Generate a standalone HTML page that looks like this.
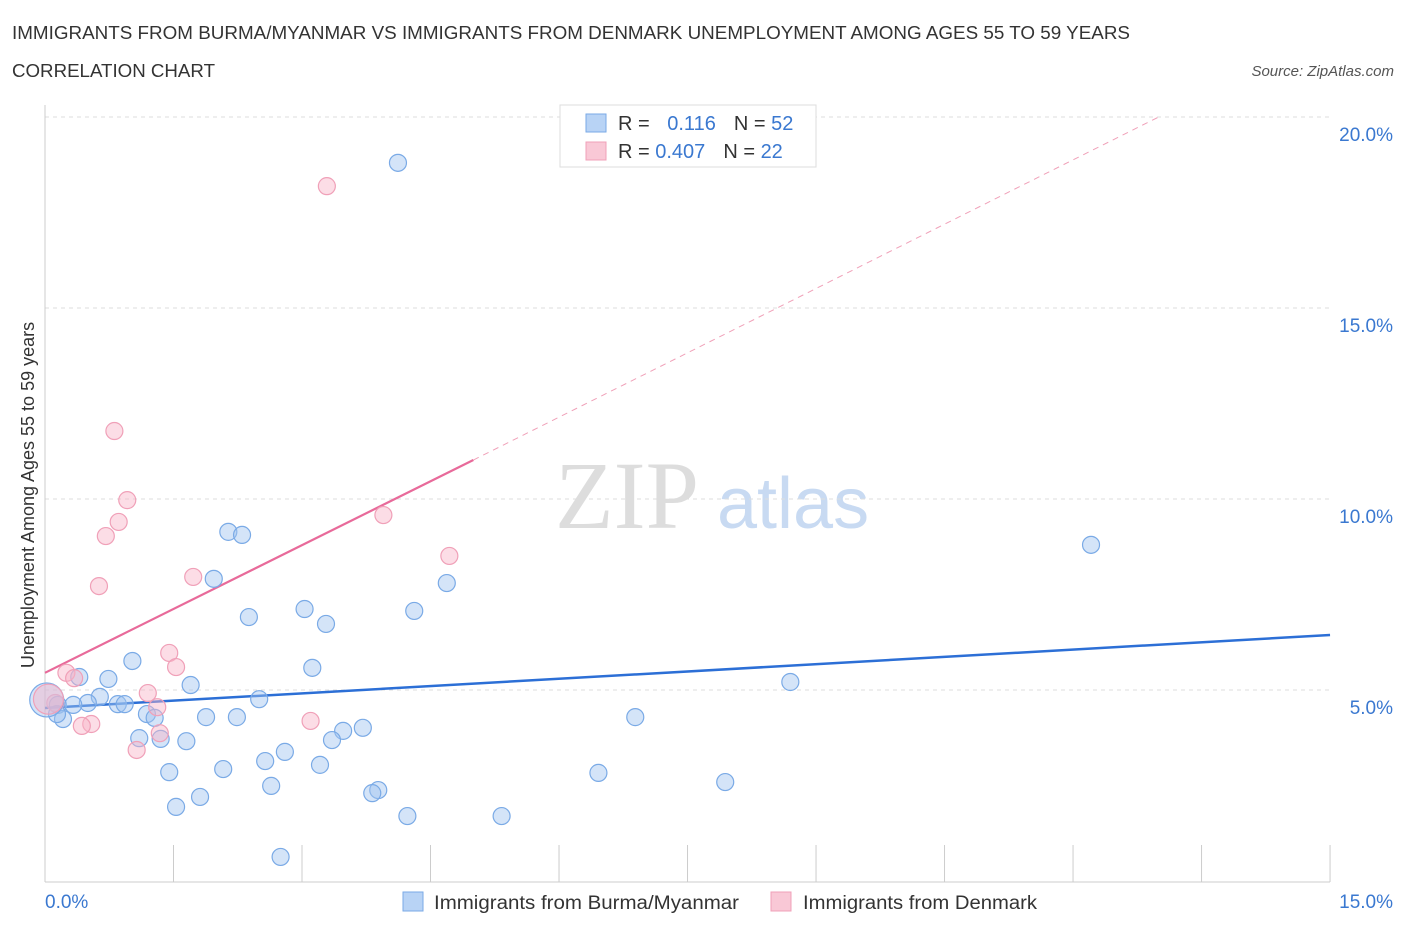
<!DOCTYPE html>
<html><head><meta charset="utf-8">
<style>
body{margin:0;background:#fff;font-family:"Liberation Sans",sans-serif;}
</style></head>
<body>
<svg width="1406" height="930" xmlns="http://www.w3.org/2000/svg" style="font-family:'Liberation Sans',sans-serif">
<text x="12" y="39" font-size="18" fill="#333" textLength="1118" lengthAdjust="spacingAndGlyphs">IMMIGRANTS FROM BURMA/MYANMAR VS IMMIGRANTS FROM DENMARK UNEMPLOYMENT AMONG AGES 55 TO 59 YEARS</text>
<text x="12" y="77" font-size="18" fill="#333" textLength="203" lengthAdjust="spacingAndGlyphs">CORRELATION CHART</text>
<text x="1394" y="76" font-size="15" fill="#555" font-style="italic" text-anchor="end">Source: ZipAtlas.com</text>
<g>
<text x="555" y="528" font-size="96" fill="#ddd" font-family="'Liberation Serif',serif">ZIP</text>
<text x="717" y="528" font-size="72" fill="#c8daf2">atlas</text>
</g>
<g id="grid"></g>
<g id="axes"></g>
<g id="trends"></g>
<g id="points"></g>
<text transform="translate(34,495) rotate(-90)" font-size="18" fill="#333" text-anchor="middle">Unemployment Among Ages 55 to 59 years</text>
<g>
<rect x="560" y="105" width="256" height="62" fill="#fff" stroke="#ddd"/>
<rect x="586" y="114" width="20" height="18" fill="#b8d3f5" stroke="#7aaae6"/>
<rect x="586" y="142" width="20" height="18" fill="#f9c8d6" stroke="#f0a0b8"/>
<text x="618" y="130" font-size="20" fill="#333">R = <tspan fill="#3a78d0" dx="12">0.116</tspan><tspan dx="18" fill="#333">N = </tspan><tspan fill="#3a78d0">52</tspan></text>
<text x="618" y="158" font-size="20" fill="#333">R = <tspan fill="#3a78d0">0.407</tspan><tspan dx="18" fill="#333">N = </tspan><tspan fill="#3a78d0">22</tspan></text>
</g>
<g>
<rect x="403" y="892" width="20" height="19" fill="#b8d3f5" stroke="#7aaae6"/>
<text x="434" y="909" font-size="19" fill="#333" textLength="305" lengthAdjust="spacingAndGlyphs">Immigrants from Burma/Myanmar</text>
<rect x="771" y="892" width="20" height="19" fill="#f9c8d6" stroke="#f0a0b8"/>
<text x="803" y="909" font-size="19" fill="#333" textLength="234" lengthAdjust="spacingAndGlyphs">Immigrants from Denmark</text>
</g>
</svg>
<script>
const yTicks=[5,10,15,20];
const yTickLabels=["5.0%","10.0%","15.0%","20.0%"];
const xTickLabels=["0.0%","15.0%"];
const blueX=[4.12,2.14,2.30,12.21,4.69,1.97,3.03,4.31,2.38,3.28,1.02,3.12,0.40,0.74,1.70,8.70,2.50,0.64,0.50,0.15,0.85,0.93,0.33,1.19,1.28,1.88,2.24,6.89,0.21,0.14,3.48,3.71,1.10,1.35,1.65,3.35,2.80,2.57,3.21,2.08,1.45,6.46,7.94,2.64,3.89,3.82,1.81,1.53,4.23,5.33,2.75];
const blueY=[18.80,9.14,9.06,8.80,7.80,7.91,7.12,7.07,6.91,6.73,5.76,5.58,5.34,5.29,5.13,5.21,4.76,4.82,4.66,4.61,4.63,4.63,4.61,4.37,4.27,4.29,4.29,4.29,4.24,4.37,3.93,4.01,3.74,3.72,3.66,3.69,3.38,3.14,3.04,2.93,2.85,2.83,2.59,2.49,2.38,2.30,2.20,1.94,1.70,1.70,0.63];
const pinkX=[3.29,0.81,0.96,0.86,0.71,3.95,4.72,1.73,0.63,1.45,1.53,0.25,0.34,1.20,1.31,0.12,3.10,0.54,0.43,1.34,1.07];
const pinkY=[18.19,11.78,9.97,9.40,9.03,9.58,8.51,7.96,7.72,5.97,5.60,5.45,5.31,4.92,4.55,4.66,4.19,4.11,4.06,3.87,3.43];
const bigBlue=[0.02,4.74], bigPink=[0.04,4.76];
const blueTrend=[[0,4.53],[15,6.44]];
const pinkTrend=[[0,5.45],[5,11.02]];
const pinkDash=[[5,11.02],[13.0,20.0]];
const NS="http://www.w3.org/2000/svg";
const sx=v=>45+v*85.67, sy=v=>881-v*38.2;
function mk(tag,attrs,parent){const e=document.createElementNS(NS,tag);for(const k in attrs)e.setAttribute(k,attrs[k]);document.getElementById(parent).appendChild(e);return e;}
yTicks.forEach((t,i)=>{
 const g=mk('line',{x1:45,x2:1330,y1:sy(t),y2:sy(t),stroke:'#ddd','stroke-dasharray':'4,4'},'grid');
 
 
 const l=mk('text',{x:1393,y:sy(t)+24,'font-size':19,fill:'#3a78d0','text-anchor':'end'},'axes');
 l.textContent=yTickLabels[i];
 
 
});
let a=mk('line',{x1:45,x2:45,y1:105,y2:882,stroke:'#ccc'},'axes');


a=mk('line',{x1:45,x2:1330,y1:882,y2:882,stroke:'#ccc'},'axes');


for(let i=0;i<=10;i++){const t=mk('line',{x1:sx(i*1.5),x2:sx(i*1.5),y1:845,y2:882,stroke:'#ccc'},'axes');
 
 }
[[0,45,'start'],[15,1393,'end']].forEach((d,i)=>{const l=mk('text',{x:d[1],y:908,'font-size':19,fill:'#3a78d0','text-anchor':d[2]},'axes');l.textContent=xTickLabels[i];
 
 });
function line(p,stroke,w,dash,name){const e=mk('line',{x1:sx(p[0][0]),y1:sy(p[0][1]),x2:sx(p[1][0]),y2:sy(p[1][1]),stroke:stroke,'stroke-width':w},'trends');if(dash)e.setAttribute('stroke-dasharray',dash);
 
 }
line(pinkDash,'#f0a0b8',1,'6,5','pink-trend-extension');
function dot(x,y,r,fill,stroke,name){const c=mk('circle',{cx:sx(x),cy:sy(y),r:r,fill:fill,stroke:stroke,'stroke-width':1.2},'points');
 
 }
blueX.forEach((x,i)=>dot(x,blueY[i],8.5,'rgba(160,196,240,0.45)','#7aaae6','point-burma'));
pinkX.forEach((x,i)=>dot(x,pinkY[i],8.5,'rgba(248,180,200,0.45)','#f0a0b8','point-denmark'));
dot(bigBlue[0],bigBlue[1],17,'rgba(160,196,240,0.45)','#7aaae6','point-burma-large');
dot(bigPink[0],bigPink[1],15,'rgba(248,180,200,0.45)','#f0a0b8','point-denmark-large');
line(blueTrend,'#2c6fd6',2.5,null,'burma-trend-line');
line(pinkTrend,'#e86a9a',2.2,null,'denmark-trend-line');
</script>
</body></html>
